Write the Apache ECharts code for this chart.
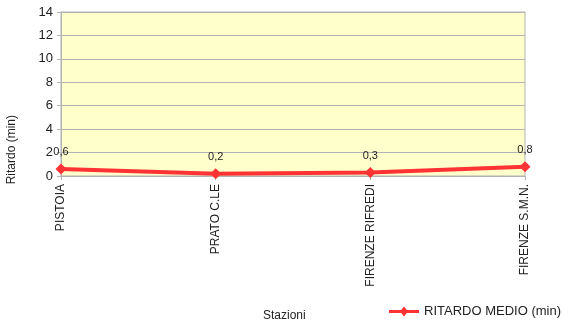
<!DOCTYPE html>
<html>
<head>
<meta charset="utf-8">
<script src="https://cdn.jsdelivr.net/npm/echarts@6/dist/echarts.min.js"></script>
<style>
html,body{margin:0;padding:0;background:#fff;}
#chart{width:564px;height:326px;}
</style>
</head>
<body>
<div id="chart"></div>
<script>
// Average delay per station
const stations = ['PISTOIA', 'PRATO C.LE', 'FIRENZE RIFREDI', 'FIRENZE S.M.N.'];
const delays = [0.6, 0.2, 0.3, 0.8];
const seriesName = 'RITARDO MEDIO (min)';
const yTitle = 'Ritardo (min)';
const xTitle = 'Stazioni';
const yTicks = { min: 0, max: 14, step: 2 };

const FONT = 'Liberation Sans, Arial, sans-serif';
const chart = echarts.init(document.getElementById('chart'));
const fmt = v => String(v).replace('.', ',');

chart.setOption({
  animation: false,
  textStyle: { fontFamily: FONT },
  grid: {
    left: 61, right: 39, top: 12, bottom: 150,
    show: true, backgroundColor: '#ffffcc', borderColor: '#b3b3b3', borderWidth: 1
  },
  legend: {
    data: [{ name: seriesName, icon: 'path://M0,3.5L30,3.5L30,6.5L0,6.5Z M15,0L19,5L15,10L11,5Z' }],
    right: -2, bottom: 3,
    itemWidth: 30, itemHeight: 10, itemGap: 4,
    textStyle: { fontSize: 13, color: '#222' }
  },
  graphic: [{
    type: 'text',
    left: 6, top: 115,
    rotation: Math.PI / 2,
    style: { text: yTitle, fontSize: 12, fill: '#222', fontFamily: FONT }
  }, {
    type: 'text',
    left: 263, top: 310,
    style: { text: xTitle, fontSize: 12, fill: '#222', fontFamily: FONT }
  }],
  xAxis: {
    type: 'category',
    data: stations,
    boundaryGap: false,
    axisLine: { lineStyle: { color: '#b3b3b3' } },
    axisTick: { show: true, length: 4, lineStyle: { color: '#b3b3b3' } },
    axisLabel: { rotate: 90, fontSize: 12, color: '#222', margin: 8 },
    splitLine: { show: false }
  },
  yAxis: {
    type: 'value',
    min: yTicks.min, max: yTicks.max, interval: yTicks.step,
    axisLine: { show: true, lineStyle: { color: '#b3b3b3' } },
    axisTick: { show: true, length: 4, lineStyle: { color: '#b3b3b3' } },
    axisLabel: { fontSize: 13, color: '#222', margin: 8 },
    splitLine: { lineStyle: { color: '#b3b3b3' } }
  },
  series: [{
    name: seriesName,
    type: 'line',
    data: delays,
    symbol: 'diamond',
    symbolSize: 11,
    lineStyle: { color: '#ff3333', width: 4 },
    itemStyle: { color: '#ff3333' },
    label: {
      show: true, position: 'top', distance: 6,
      fontSize: 11, color: '#222',
      formatter: p => fmt(p.value)
    }
  }]
});
</script>
</body>
</html>
